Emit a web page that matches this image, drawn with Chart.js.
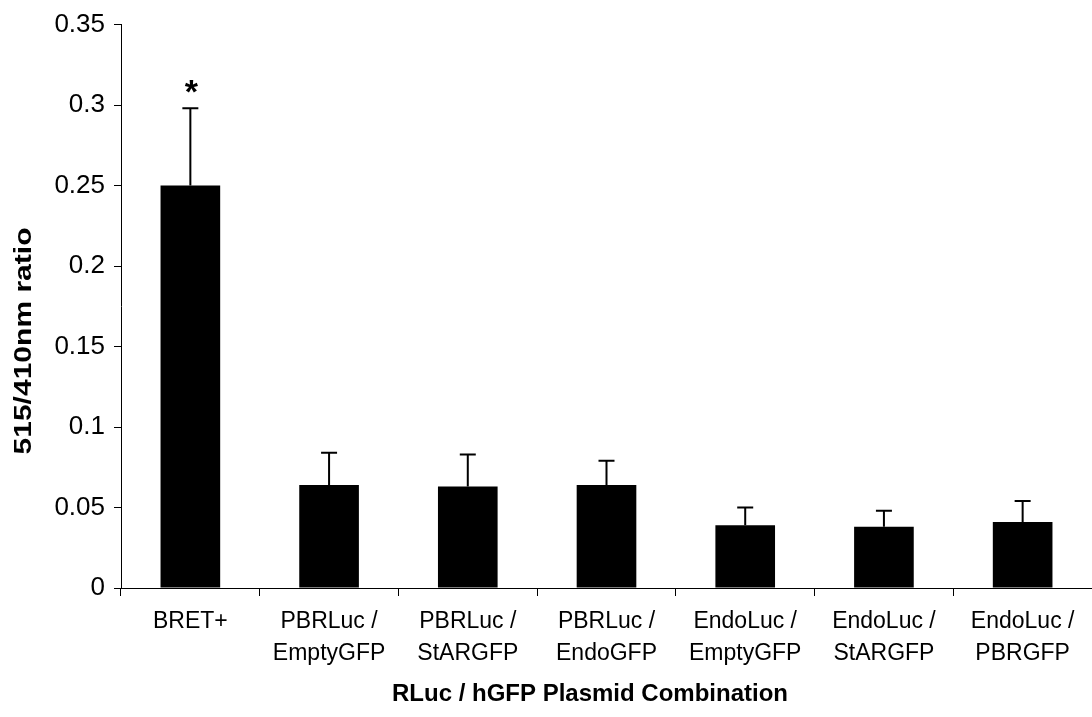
<!DOCTYPE html>
<html>
<head>
<meta charset="utf-8">
<script src="https://cdn.jsdelivr.net/npm/chart.js@4/dist/chart.umd.min.js"></script>
<style>
  html, body { margin: 0; padding: 0; background: #fff; }
  #wrap { width: 1092px; height: 717px; position: relative; }
</style>
</head>
<body>
<div id="wrap"><canvas id="chart"></canvas></div>
<script>
// Plasmid combinations (x categories, two-line labels)
const categories = [
  ['BRET+'],
  ['PBRLuc /', 'EmptyGFP'],
  ['PBRLuc /', 'StARGFP'],
  ['PBRLuc /', 'EndoGFP'],
  ['EndoLuc /', 'EmptyGFP'],
  ['EndoLuc /', 'StARGFP'],
  ['EndoLuc /', 'PBRGFP']
];
// Mean 515/410nm emission ratio per combination
const ratioMeans = [0.25, 0.064, 0.063, 0.064, 0.039, 0.038, 0.041];
// Upper error (SEM) per combination
const ratioErrors = [0.048, 0.020, 0.020, 0.015, 0.011, 0.010, 0.013];
// Significance markers above error bars
const significance = ['*', '', '', '', '', '', ''];
// Y axis tick labels
const yTickLabels = ['0', '0.05', '0.1', '0.15', '0.2', '0.25', '0.3', '0.35'];
const xAxisTitle = 'RLuc / hGFP Plasmid Combination';
const yAxisTitle = '515/410nm ratio';

const FONT = 'Liberation Sans, Arial, Helvetica, sans-serif';

// Upward-only error bars with caps, plus significance marks
const errorBarPlugin = {
  id: 'errorBars',
  afterDatasetsDraw(chart) {
    const ctx = chart.ctx;
    const yScale = chart.scales.y;
    const meta = chart.getDatasetMeta(0);
    ctx.save();
    ctx.strokeStyle = '#000';
    ctx.lineWidth = 2;
    meta.data.forEach((bar, i) => {
      const top = yScale.getPixelForValue(ratioMeans[i] + ratioErrors[i]);
      ctx.beginPath();
      ctx.moveTo(bar.x, bar.y);
      ctx.lineTo(bar.x, top);
      ctx.moveTo(bar.x - 8, top);
      ctx.lineTo(bar.x + 8, top);
      ctx.stroke();
      if (significance[i]) {
        ctx.fillStyle = '#000';
        ctx.font = 'bold 34px ' + FONT;
        ctx.textAlign = 'center';
        ctx.textBaseline = 'alphabetic';
        ctx.fillText(significance[i], bar.x + 1, top - 5);
      }
    });
    ctx.restore();
  }
};

// Axis titles
const axisTitlePlugin = {
  id: 'axisTitles',
  afterDraw(chart) {
    const ctx = chart.ctx;
    ctx.save();
    ctx.fillStyle = '#000';
    ctx.font = 'bold 24px ' + FONT;
    ctx.textAlign = 'center';
    ctx.textBaseline = 'middle';
    ctx.fillText(xAxisTitle, 590, 694);

    ctx.translate(24, 341);
    ctx.rotate(-Math.PI / 2);
    const w = ctx.measureText(yAxisTitle).width;
    ctx.scale(227 / w, 1);
    ctx.fillText(yAxisTitle, 0, 0);
    ctx.restore();
  }
};

new Chart(document.getElementById('chart'), {
  type: 'bar',
  data: {
    labels: categories,
    datasets: [{
      data: ratioMeans,
      backgroundColor: '#000',
      borderWidth: 0,
      barPercentage: 0.86,
      categoryPercentage: 0.5
    }]
  },
  options: {
    responsive: true,
    maintainAspectRatio: false,
    animation: false,
    layout: { padding: { top: 24, right: 0, left: 0, bottom: 0 } },
    plugins: { legend: { display: false }, tooltip: { enabled: false } },
    scales: {
      x: {
        afterFit(scale) { scale.height = 129; },
        grid: {
          display: true, offset: true, drawOnChartArea: false,
          drawTicks: true, tickLength: 8, color: '#000', lineWidth: 1
        },
        border: { display: true, color: '#000', width: 1 },
        ticks: {
          color: '#000', padding: 10, maxRotation: 0, autoSkip: false,
          font: { family: FONT, size: 23, lineHeight: 1.38 }
        }
      },
      y: {
        min: 0, max: 0.35,
        afterFit(scale) { scale.width = 121; },
        grid: {
          display: true, drawOnChartArea: false,
          drawTicks: true, tickLength: 7, color: '#000', lineWidth: 1
        },
        border: { display: true, color: '#000', width: 1 },
        ticks: {
          stepSize: 0.05, color: '#000', padding: 9,
          font: { family: FONT, size: 26 },
          callback: (v, i) => yTickLabels[i]
        }
      }
    }
  },
  plugins: [errorBarPlugin, axisTitlePlugin]
});
</script>
</body>
</html>
